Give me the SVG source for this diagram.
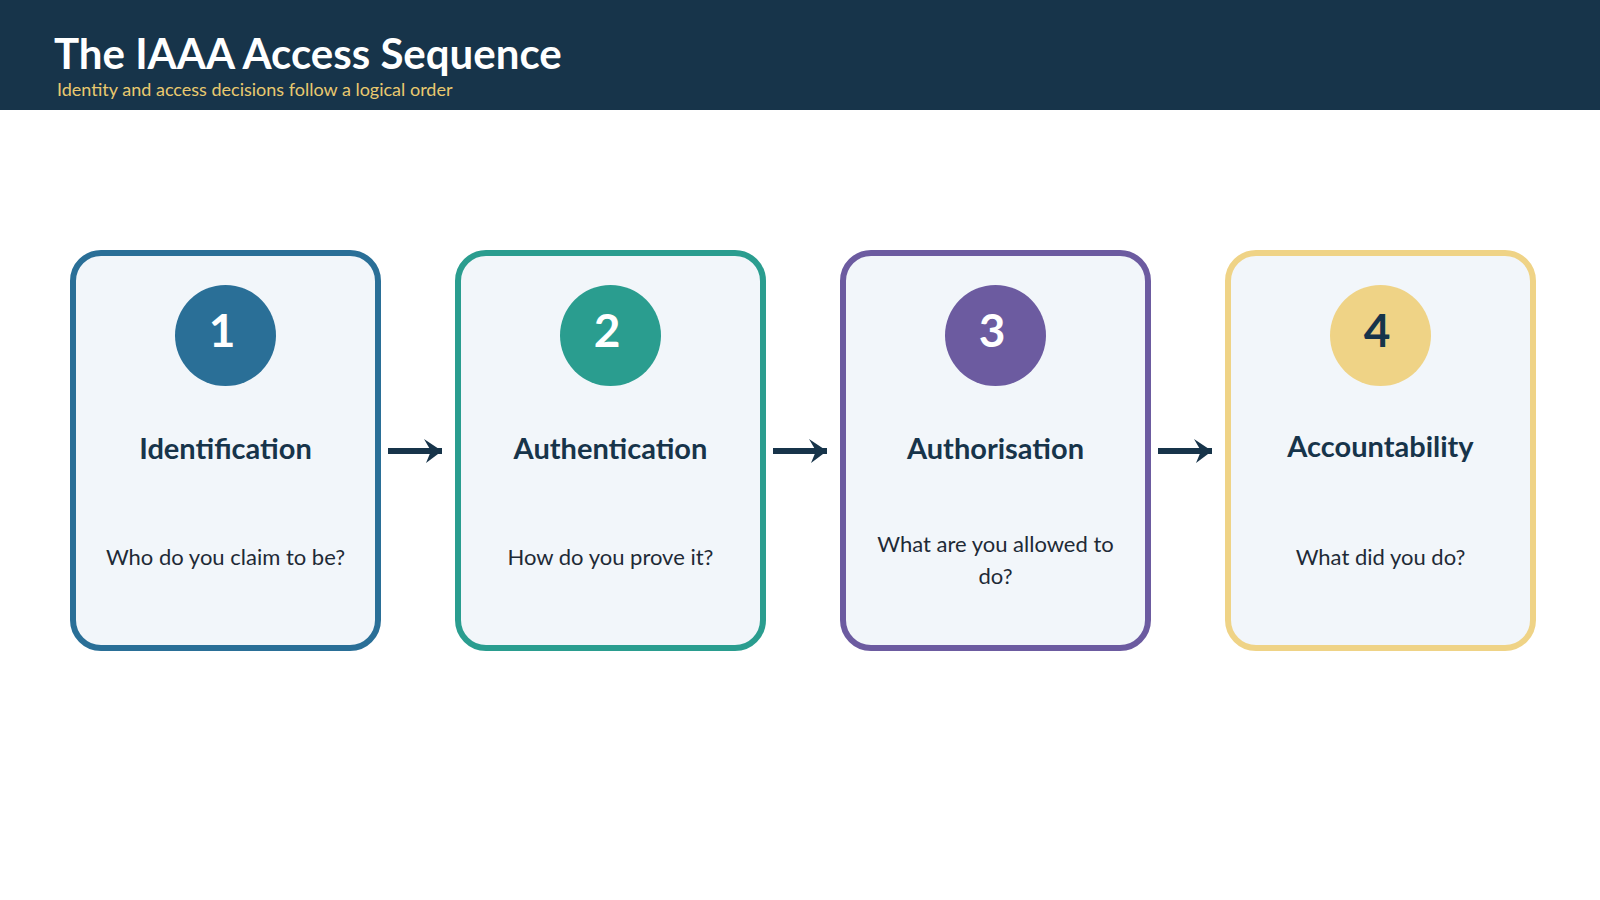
<svg xmlns="http://www.w3.org/2000/svg" width="1600" height="900" viewBox="0 0 1600 900">
<style>
.card{fill:#f2f6fa;stroke-width:6}
.num{font-family:Lato,"Liberation Sans",sans-serif;font-size:46px;font-weight:700;text-anchor:middle}
.title{font-family:Lato,"Liberation Sans",sans-serif;font-size:29px;font-weight:700;fill:#17344a;text-anchor:middle}
.desc{font-family:Lato,"Liberation Sans",sans-serif;font-size:22px;fill:#1e2a36;text-anchor:middle}
.conn{stroke:#17344a;stroke-width:6;fill:none}
</style>
<defs>
<marker id="arr" markerUnits="userSpaceOnUse" markerWidth="24" markerHeight="26" refX="18" refY="12" orient="auto">
<path d="M0,0 L18,12 L2,24 L7,12 Z" fill="#17344a"/>
</marker>
</defs>
<rect width="1600" height="900" fill="#ffffff"/>
<g id="header">
<rect x="0" y="0" width="1600" height="110" fill="#17344a"/>
<text x="54" y="69" font-family="Lato,'Liberation Sans',sans-serif" font-size="42" font-weight="700" fill="#ffffff">The IAAA Access Sequence</text>
<text x="57" y="96" font-family="Lato,'Liberation Sans',sans-serif" font-size="18" fill="#e9c96f">Identity and access decisions follow a logical order</text>
</g>
<g id="node1">
<rect class="card" x="73" y="253" width="305" height="395" rx="28" stroke="#2a6f97"/>
<circle cx="225.5" cy="335.5" r="50.5" fill="#2a6f97"/>
<text class="num" x="222" y="347" fill="#ffffff">1</text>
<text class="title" x="225.5" y="459">Identification</text>
<text class="desc" x="225.5" y="565">Who do you claim to be?</text>
</g>
<g id="node2">
<rect class="card" x="458" y="253" width="305" height="395" rx="28" stroke="#2a9d8f"/>
<circle cx="610.5" cy="335.5" r="50.5" fill="#2a9d8f"/>
<text class="num" x="607" y="347" fill="#ffffff">2</text>
<text class="title" x="610.5" y="459">Authentication</text>
<text class="desc" x="610.5" y="565">How do you prove it?</text>
</g>
<g id="node3">
<rect class="card" x="843" y="253" width="305" height="395" rx="28" stroke="#6c5ba0"/>
<circle cx="995.5" cy="335.5" r="50.5" fill="#6c5ba0"/>
<text class="num" x="992" y="347" fill="#ffffff">3</text>
<text class="title" x="995.5" y="459">Authorisation</text>
<text class="desc" x="995.5" y="552">What are you allowed to</text>
<text class="desc" x="995.5" y="584">do?</text>
</g>
<g id="node4">
<rect class="card" x="1228" y="253" width="305" height="395" rx="28" stroke="#efd386"/>
<circle cx="1380.5" cy="335.5" r="50.5" fill="#efd386"/>
<text class="num" x="1377" y="347" fill="#17344a">4</text>
<text class="title" x="1380.5" y="457">Accountability</text>
<text class="desc" x="1380.5" y="565">What did you do?</text>
</g>
<g id="connectors">
<line class="conn" x1="388" y1="451" x2="442" y2="451" marker-end="url(#arr)"/>
<line class="conn" x1="773" y1="451" x2="827" y2="451" marker-end="url(#arr)"/>
<line class="conn" x1="1158" y1="451" x2="1212" y2="451" marker-end="url(#arr)"/>
</g>
</svg>
